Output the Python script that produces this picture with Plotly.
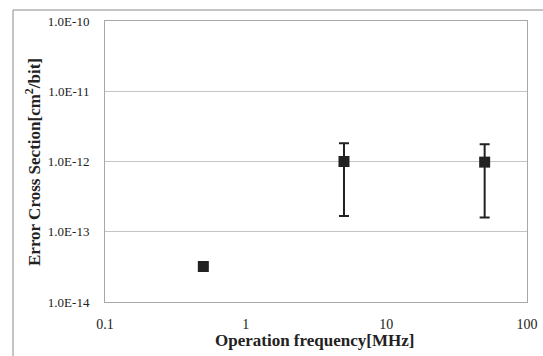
import plotly.graph_objects as go

freq_mhz = [0.5, 5, 50]
cross_section = [3.2e-14, 1.0e-12, 9.8e-13]
err_upper = [None, 1.82e-12, 1.76e-12]
err_lower = [None, 1.67e-13, 1.60e-13]

y_tickvals = [1e-14, 1e-13, 1e-12, 1e-11, 1e-10]
y_ticktext = ["1.0E-14", "1.0E-13", "1.0E-12", "1.0E-11", "1.0E-10"]
x_tickvals = [0.1, 1, 10, 100]
x_ticktext = ["0.1", "1", "10", "100"]

plus = [(u - v) if u is not None else 0 for u, v in zip(err_upper, cross_section)]
minus = [(v - l) if l is not None else 0 for l, v in zip(err_lower, cross_section)]

serif = "Liberation Serif, Times New Roman, serif"

W, H = 543, 356
L, R, T, B = 105, 16, 21, 54
PW, PH = W - L - R, H - T - B

def px(x):
    return (x - L) / PW

def py(y):
    return (H - B - y) / PH

fig = go.Figure()
fig.add_trace(go.Scatter(
    x=freq_mhz, y=cross_section, mode="markers",
    marker=dict(symbol="square", size=11, color="#222222"),
    error_y=dict(type="data", symmetric=False, array=plus, arrayminus=minus,
                 color="#222222", thickness=2, width=5),
    showlegend=False,
))

fig.update_layout(
    width=W, height=H,
    margin=dict(l=L, r=R, t=T, b=B),
    paper_bgcolor="white", plot_bgcolor="white",
    font=dict(family=serif, size=13, color="#222222"),
    xaxis=dict(type="log", range=[-1, 2], tickvals=x_tickvals, ticktext=x_ticktext,
               showgrid=False, showline=True, mirror=True, linecolor="#a8a8a8", linewidth=1,
               ticks="", ticklabelstandoff=9, zeroline=False, automargin=False,
               tickfont=dict(size=14)),
    yaxis=dict(type="log", range=[-14, -10], tickvals=y_tickvals, ticktext=y_ticktext,
               showgrid=True, gridcolor="#c4c4c4", gridwidth=1,
               showline=True, mirror=True, linecolor="#a8a8a8", linewidth=1,
               ticks="", ticklabelstandoff=12, zeroline=False, automargin=False,
               tickfont=dict(size=13)),
    annotations=[
        dict(text="<b>Operation frequency[MHz]</b>", xref="paper", yref="paper",
             x=px(314), y=py(341), xanchor="center", yanchor="middle", showarrow=False,
             font=dict(size=17, family=serif, color="#222222")),
        dict(text="<b>Error Cross Section[cm<sup>2</sup>/bit]</b>", xref="paper", yref="paper",
             x=px(33), y=py(162), xanchor="center", yanchor="middle", showarrow=False,
             textangle=-90, font=dict(size=17, family=serif, color="#222222")),
    ],
    shapes=[
        dict(type="line", xref="paper", yref="paper", x0=px(13), x1=px(543),
             y0=py(10), y1=py(10), line=dict(color="#8a8a8a", width=1)),
        dict(type="line", xref="paper", yref="paper", x0=px(13), x1=px(13),
             y0=py(10), y1=py(356), line=dict(color="#8a8a8a", width=1)),
    ],
)

fig.write_html("out.html", config={"displayModeBar": False},
               post_script="document.body.style.margin='0';document.body.style.padding='0';")
